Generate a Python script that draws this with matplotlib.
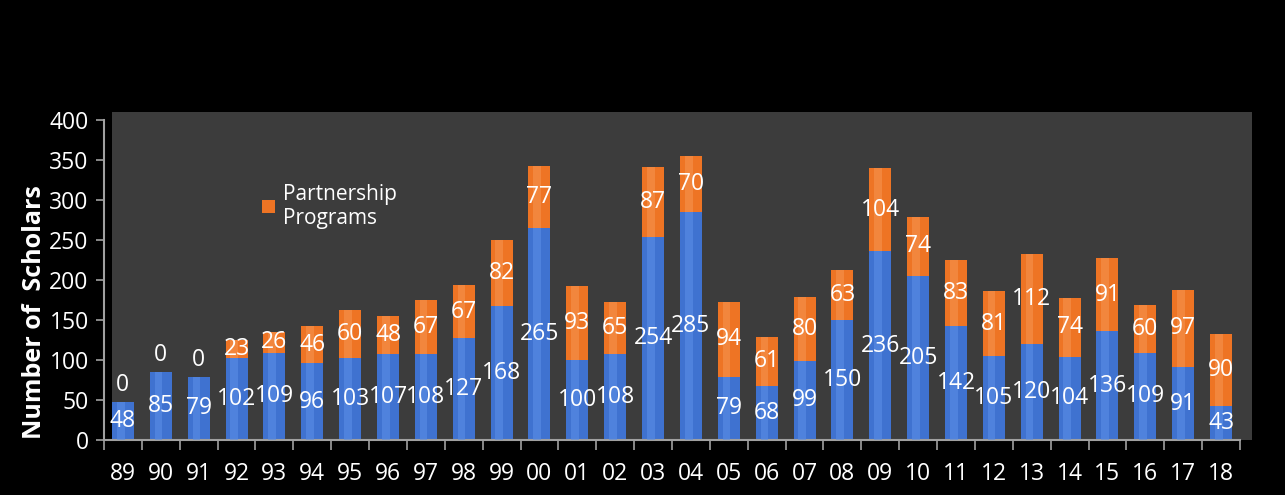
import numpy as np
import matplotlib.pyplot as plt
from matplotlib.patches import Rectangle, Patch

# Scholar counts per intake year
years = ['89', '90', '91', '92', '93', '94', '95', '96', '97', '98', '99', '00', '01', '02', '03',
         '04', '05', '06', '07', '08', '09', '10', '11', '12', '13', '14', '15', '16', '17', '18']
regular = [48, 85, 79, 102, 109, 96, 103, 107, 108, 127, 168, 265, 100, 108, 254,
           285, 79, 68, 99, 150, 236, 205, 142, 105, 120, 104, 136, 109, 91, 43]
partnership = [0, 0, 0, 23, 26, 46, 60, 48, 67, 67, 82, 77, 93, 65, 87,
               70, 94, 61, 80, 63, 104, 74, 83, 81, 112, 74, 91, 60, 97, 90]

plt.rcParams['font.family'] = ['Open Sans', 'DejaVu Sans']

blue = '#3f72d0'
orange = '#ee7424'
txt = 'white'
fs = 16.5

fig = plt.figure(figsize=(12.85, 4.95), dpi=100, facecolor='black')
ax = fig.add_axes([104 / 1285, 1 - 440 / 495, 1136 / 1285, 320 / 495])
ax.set_facecolor('none')

# gray back wall of the 3D plot area
fig.patches.append(Rectangle((112 / 1285, 1 - 440 / 495), 1140 / 1285, 328 / 495,
                             transform=fig.transFigure, facecolor='#3c3c3c',
                             edgecolor='none', zorder=-5))

x = np.arange(len(years))
w = 0.58
reg = np.array(regular)
par = np.array(partnership)

ax.bar(x, reg, width=w, color=blue, zorder=2)
ax.bar(x, par, width=w, bottom=reg, color=orange, zorder=2)
# lighter stripe to hint at the cylinder shading
ax.bar(x - 0.06, reg, width=w * 0.35, color='#5b8ee6', alpha=0.6, zorder=3)
ax.bar(x - 0.06, par, width=w * 0.35, bottom=reg, color='#f5934f', alpha=0.6, zorder=3)

for i in range(len(years)):
    ax.text(x[i], reg[i] / 2, str(reg[i]), color=txt, ha='center', va='center',
            fontsize=fs, zorder=5)
    if par[i] == 0:
        ax.text(x[i], reg[i] + 6, '0', color=txt, ha='center', va='bottom',
                fontsize=fs, zorder=5)
    else:
        ax.text(x[i], reg[i] + par[i] / 2, str(par[i]), color=txt, ha='center',
                va='center', fontsize=fs, zorder=5)

ax.set_xlim(-0.5, len(years) - 0.5)
ax.set_ylim(0, 400)
ax.set_yticks(range(0, 401, 50))
ax.set_xticks(x)
ax.set_xticklabels(years)
ax.set_xticks(np.arange(-0.5, len(years), 1), minor=True)
ax.tick_params(axis='x', which='major', length=0, pad=16, labelsize=fs, colors=txt)
ax.tick_params(axis='x', which='minor', length=7, color='#a0a0a0', width=1.2)
ax.tick_params(axis='y', length=6, color='#a0a0a0', width=1.2, pad=5, labelsize=fs,
               labelcolor=txt)

for s in ['top', 'right']:
    ax.spines[s].set_visible(False)
for s in ['left', 'bottom']:
    ax.spines[s].set_color('#a0a0a0')
    ax.spines[s].set_linewidth(1.5)

ax.set_ylabel('Number of  Scholars', color=txt, fontsize=18, fontweight='bold')
ax.yaxis.set_label_coords(-0.05, 0.4)

leg = ax.legend(handles=[Patch(facecolor=orange, label='Partnership\nPrograms')],
                loc='upper left', bbox_to_anchor=(0.123, 0.86), frameon=False,
                fontsize=15, handlelength=0.6, handleheight=0.6, handletextpad=0.4)
for t in leg.get_texts():
    t.set_color(txt)

fig.savefig('out.png', dpi=100, facecolor='black')
